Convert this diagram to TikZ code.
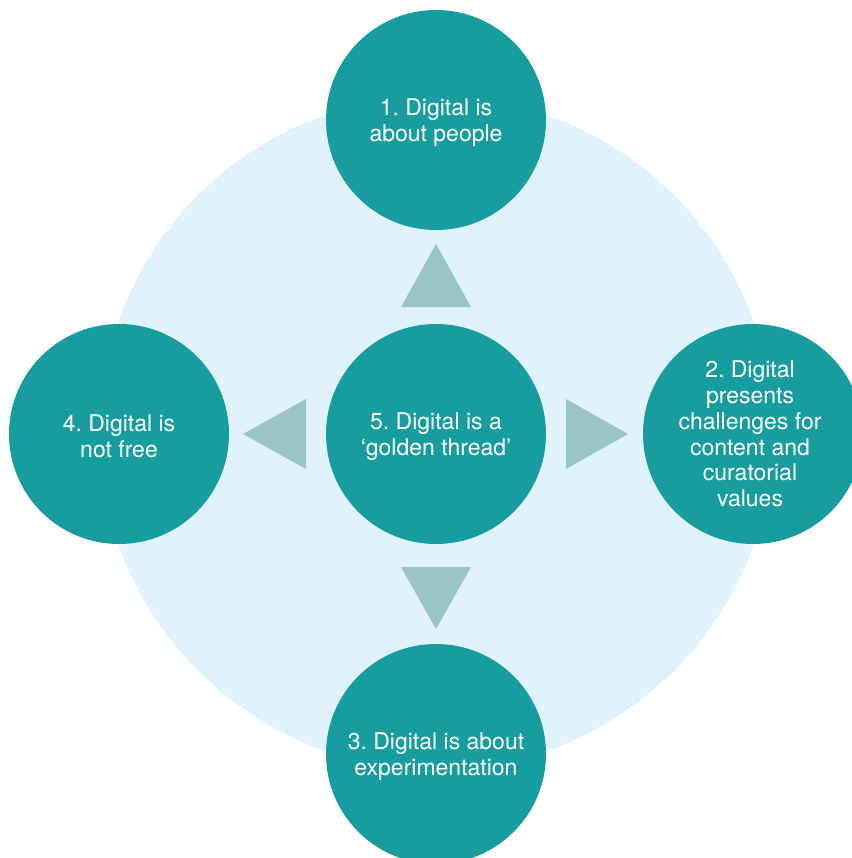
\documentclass[tikz,border=0pt]{standalone}
\usepackage{fontspec}
\setmainfont{TeX Gyre Heros}
\frenchspacing
\usetikzlibrary{calc}
\definecolor{tealc}{RGB}{23,157,159}
\definecolor{bgblue}{RGB}{224,242,252}
\definecolor{trifill}{RGB}{154,197,199}
\begin{document}
\begin{tikzpicture}[x=1pt,y=-1pt,
  bubble/.style={circle,fill=tealc,minimum size=220pt,inner sep=0pt},
  backdisc/.style={circle,fill=bgblue,minimum size=673pt,inner sep=0pt},
  txt/.style={text=white,align=center,inner sep=0pt,font=\fontsize{23}{25.8}\selectfont},
  trishape/.style={fill=trifill}]
\useasboundingbox (0,0) rectangle (851,858);
\node[backdisc] (bg) at (436,433) {};
\node[bubble] (c5) at (436,434) {};
% triangles
\fill[trishape] ($(c5.center)+(0,-190)$) -- ($(c5.center)+(-35,-127)$) -- ($(c5.center)+(35,-127)$) -- cycle;
\fill[trishape] ($(c5.center)+(192,0)$) -- ($(c5.center)+(130,-35)$) -- ($(c5.center)+(130,35)$) -- cycle;
\fill[trishape] ($(c5.center)+(-193,0)$) -- ($(c5.center)+(-130,-35)$) -- ($(c5.center)+(-130,35)$) -- cycle;
\fill[trishape] ($(c5.center)+(0,195)$) -- ($(c5.center)+(-35,133)$) -- ($(c5.center)+(35,133)$) -- cycle;
\node[bubble] (c1) at (436,120) {};
\node[bubble] (c2) at (753,434) {};
\node[bubble] (c3) at (436,754) {};
\node[bubble] (c4) at (119,434) {};
\node[txt] (t1) at ([yshift=-3pt]c1.center) {1. Digital is\\about people};
\node[txt] (t2) at ([xshift=-3pt]c2.center) {2. Digital\\presents\\challenges for\\content and\\curatorial\\values};
\node[txt] (t3) at ([yshift=-3pt]c3.center) {3. Digital is about\\experimentation};
\node[txt] (t4) at ([yshift=-2pt]c4.center) {4. Digital is\\not free};
\node[txt] (t5) at ([yshift=-3pt]c5.center) {5. Digital is a\\‘golden thread’};
\end{tikzpicture}
\end{document}
